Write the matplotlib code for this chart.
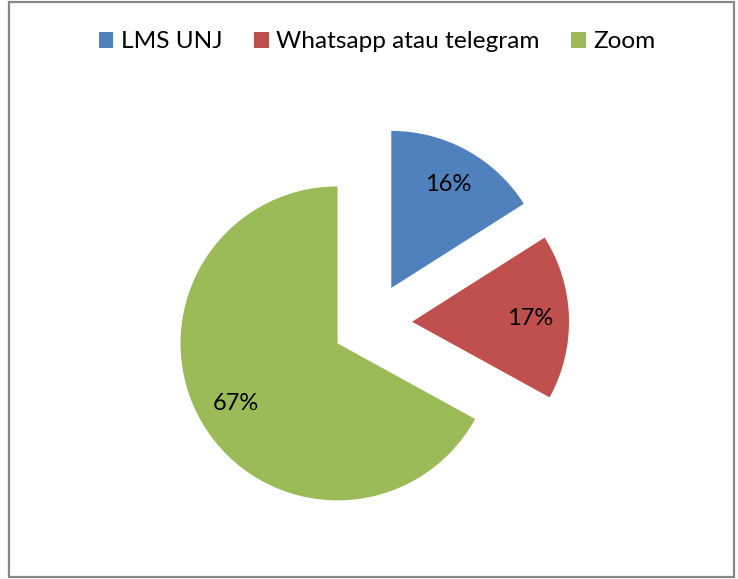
import matplotlib
matplotlib.use("Agg")
import matplotlib.pyplot as plt
from matplotlib.patches import Patch, Rectangle

labels = ["LMS UNJ", "Whatsapp atau telegram", "Zoom"]
values = [16, 17, 67]
colors = ["#4F81BD", "#C0504D", "#9BBB59"]
explode = [0.255, 0.255, 0.255]

W, H = 738, 579
fig = plt.figure(figsize=(W/100, H/100), dpi=100)
plt.rcParams['font.family'] = ['Lato', 'DejaVu Sans']

# border
fig.patches.append(Rectangle((9/W, 1-577/H), (734-9)/W, (577-2)/H,
                             transform=fig.transFigure, fill=False,
                             edgecolor="#878787", linewidth=1.6))

cx, cy, R = 372, 323, 157
half = 1.5 * R
ax = fig.add_axes([(cx-half)/W, (H-cy-half)/H, 2*half/W, 2*half/H])
wedges, texts, autotexts = ax.pie(values, colors=colors, explode=explode,
                                  startangle=90, counterclock=False,
                                  autopct='%d%%', pctdistance=0.75,
                                  textprops=dict(fontsize=17, color='black'))
for w in wedges:
    w.set_clip_on(False)
ax.set_xlim(-1.5, 1.5)
ax.set_ylim(-1.5, 1.5)
ax.set_aspect('equal')
ax.axis('off')

handles = [Patch(facecolor=c, edgecolor='none') for c in colors]
fig.legend(handles, labels, loc='center', bbox_to_anchor=(377/W, 1-42/H),
           ncol=3, frameon=False, fontsize=17.6, handlelength=0.6,
           handleheight=0.6, handletextpad=0.3, columnspacing=1.3)

fig.savefig("out.png", dpi=100)
